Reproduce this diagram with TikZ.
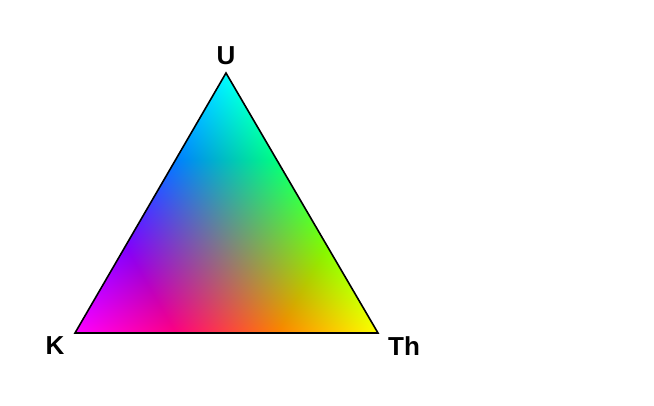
\documentclass[tikz,border=0pt]{standalone}
\usepackage{fontspec}
\setmainfont{Liberation Sans}
\pgfdeclarefunctionalshading{ternary}{\pgfpoint{0bp}{0bp}}{\pgfpoint{100bp}{100bp}}{}{
  25 sub 0.02 mul
  exch 25 sub 0.02 mul
  1 index 0.5 mul sub
  2 copy add 1 exch sub
  exch
  1.5 mul 1 exch sub dup 0 lt {pop 0} if dup 1 gt {pop 1} if
  3 1 roll
  1.5 mul 1 exch sub dup 0 lt {pop 0} if dup 1 gt {pop 1} if
  3 1 roll
  1.5 mul 1 exch sub dup 0 lt {pop 0} if dup 1 gt {pop 1} if
  3 1 roll
}
\tikzset{
  lbl/.style={font=\fontsize{26}{30}\selectfont\bfseries, inner sep=0pt, text=black},
  edge/.style={draw=black, line width=1.6pt, line join=miter}
}
\begin{document}
\begin{tikzpicture}[x=1pt,y=-1pt]
\useasboundingbox[fill=white] (0,0) rectangle (654,406);
\coordinate (K) at (75,333);
\coordinate (U) at (226,73);
\coordinate (Th) at (378,333);
\shade[shading=ternary] (K) -- (U) -- (Th) -- cycle;
\draw[edge] (K) -- (U) -- (Th) -- cycle;
\node[lbl] (lU) at (226,56) {U};
\node[lbl] (lK) at (55,346) {K};
\node[lbl] (lTh) at (404,346) {Th};
\end{tikzpicture}
\end{document}
